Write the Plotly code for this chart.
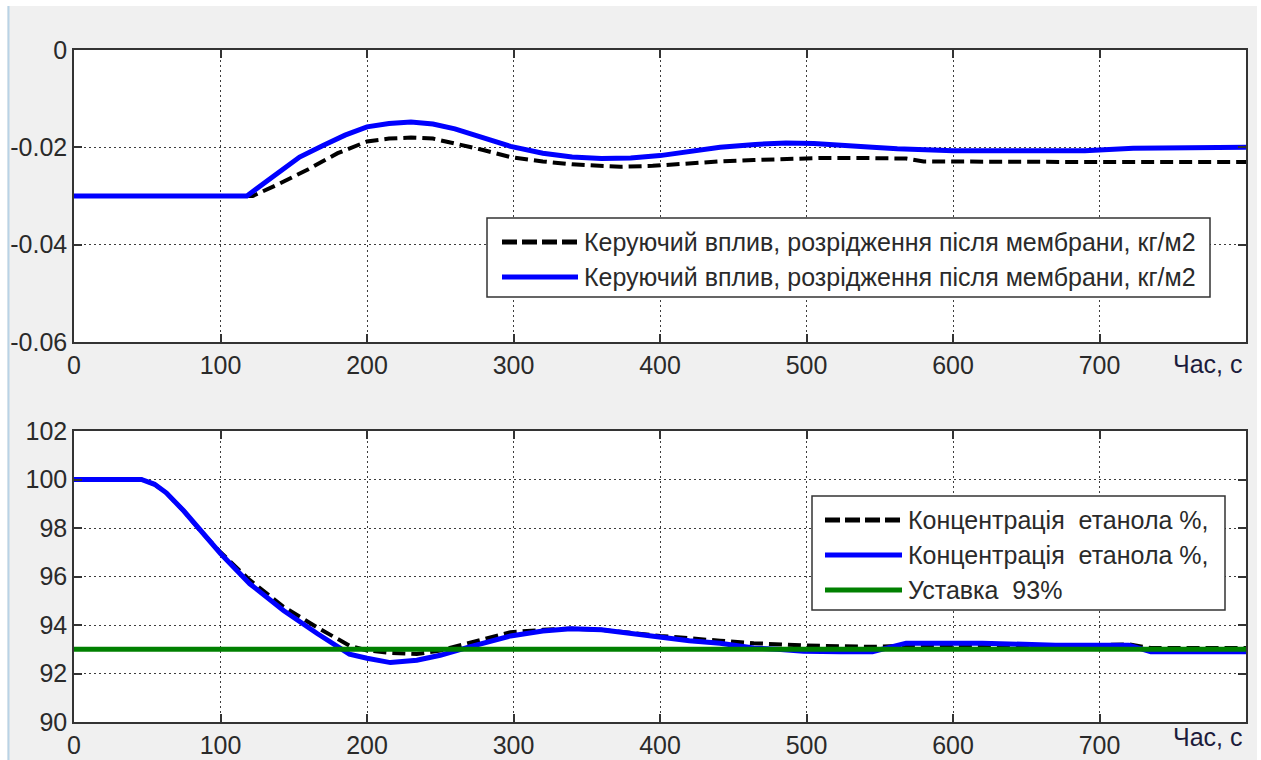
import plotly.graph_objects as go

# ---- upper panel: control action (vacuum after membrane), kg/m2 ----
t_ctrl_a = [0, 122, 140, 160, 180, 200, 215, 230, 245, 260, 280, 298, 320, 340,
            360, 373, 395, 418, 440, 464, 490, 509, 540, 568, 580, 620, 680, 740, 800]
u_ctrl_a = [-0.030, -0.030, -0.0275, -0.0245, -0.0212, -0.0188, -0.0182, -0.0180,
            -0.0182, -0.0192, -0.0206, -0.0220, -0.0229, -0.0235, -0.0239, -0.0240,
            -0.0238, -0.0233, -0.0229, -0.0226, -0.0223, -0.0222, -0.0222, -0.0223,
            -0.0229, -0.0230, -0.0230, -0.0230, -0.0230]

t_ctrl_b = [0, 118, 135, 154, 170, 185, 200, 215, 230, 245, 260, 280, 298, 320, 340,
            360, 380, 400, 420, 441, 465, 486, 505, 525, 545, 562, 600, 650, 690, 723,
            760, 800]
u_ctrl_b = [-0.030, -0.030, -0.0262, -0.0220, -0.0196, -0.0175, -0.0158, -0.0151,
            -0.0148, -0.0152, -0.0162, -0.0180, -0.0198, -0.0212, -0.0220, -0.0223,
            -0.0222, -0.0217, -0.0208, -0.0200, -0.0194, -0.0191, -0.0192, -0.0197,
            -0.0200, -0.0203, -0.0207, -0.0207, -0.0207, -0.0202, -0.0201, -0.0200]

# ---- lower panel: ethanol concentration, % ----
t_conc_a = [0, 46, 55, 63, 75, 86, 100, 120, 143, 166, 188, 200, 216, 234, 250, 270,
            298, 320, 339, 360, 400, 441, 464, 500, 545, 568, 620, 680, 720, 735, 760, 800]
c_conc_a = [100, 100, 99.8, 99.45, 98.7, 97.9, 97.0, 95.85, 94.75, 93.9, 93.15, 92.95,
            92.85, 92.8, 92.95, 93.25, 93.7, 93.8, 93.85, 93.8, 93.55, 93.35, 93.25,
            93.15, 93.1, 93.15, 93.15, 93.15, 93.2, 93.05, 93.05, 93.05]

t_conc_b = [0, 46, 55, 63, 75, 86, 100, 120, 143, 166, 188, 200, 216, 234, 250, 270,
            298, 320, 339, 360, 373, 400, 420, 441, 464, 480, 498, 523, 545, 568, 620,
            670, 700, 720, 735, 760, 800]
c_conc_b = [100, 100, 99.8, 99.45, 98.7, 97.9, 96.95, 95.7, 94.6, 93.65, 92.8, 92.63,
            92.45, 92.55, 92.75, 93.1, 93.55, 93.75, 93.85, 93.8, 93.7, 93.5, 93.35,
            93.25, 93.05, 93.0, 92.92, 92.9, 92.9, 93.25, 93.25, 93.17, 93.17, 93.17,
            92.9, 92.9, 92.9]

t_setpoint = [0, 800]
c_setpoint = [93, 93]

x_ticks = [0, 100, 200, 300, 400, 500, 600, 700]
top_ticks = [-0.06, -0.04, -0.02, 0]
top_tick_text = ["-0.06", "-0.04", "-0.02", "0"]
bottom_ticks = [90, 92, 94, 96, 98, 100, 102]

label_ctrl = "Керуючий вплив, розрідження після мембрани, кг/м2"
label_conc = "Концентрація  етанола %,"
label_set = "Уставка  93%"
x_title = "Час, с"

W, H = 1261, 760
FONT = "Liberation Sans, Arial, sans-serif"
BLACK_DASH = "13px,6px"


def px(x):
    return x / W


def py(y):
    return 1 - y / H


fig = go.Figure()

fig.add_trace(go.Scatter(x=t_ctrl_a, y=u_ctrl_a, mode="lines", xaxis="x", yaxis="y",
                         line=dict(color="black", width=4, dash=BLACK_DASH)))
fig.add_trace(go.Scatter(x=t_ctrl_b, y=u_ctrl_b, mode="lines", xaxis="x", yaxis="y",
                         line=dict(color="#0000ff", width=5)))
fig.add_trace(go.Scatter(x=t_conc_a, y=c_conc_a, mode="lines", xaxis="x2", yaxis="y2",
                         line=dict(color="black", width=4, dash=BLACK_DASH)))
fig.add_trace(go.Scatter(x=t_conc_b, y=c_conc_b, mode="lines", xaxis="x2", yaxis="y2",
                         line=dict(color="#0000ff", width=5)))
fig.add_trace(go.Scatter(x=t_setpoint, y=c_setpoint, mode="lines", xaxis="x2", yaxis="y2",
                         line=dict(color="#008000", width=5)))

axis_common = dict(
    automargin=False,
    showline=True, linecolor="#333333", linewidth=1.5, mirror="ticks",
    ticks="inside", ticklen=8, tickwidth=1.5, tickcolor="#333333",
    showgrid=True, gridcolor="#3c3c3c", gridwidth=1.2, griddash="1.5px,3.5px",
    zeroline=False, tickfont=dict(family=FONT, size=25, color="#2a2a2a"),
)

x_dom = [px(74), px(1246)]
fig.update_layout(
    width=W, height=H,
    margin=dict(l=0, r=0, t=0, b=0, autoexpand=False),
    paper_bgcolor="#f0f0f0", plot_bgcolor="white",
    showlegend=False,
    font=dict(family=FONT),
    xaxis=dict(domain=x_dom, range=[0, 800], tickvals=x_ticks, anchor="y", **axis_common),
    yaxis=dict(domain=[py(342), py(50)], range=[-0.06, 0], tickvals=top_ticks,
               ticktext=top_tick_text, anchor="x", **axis_common),
    xaxis2=dict(domain=x_dom, range=[0, 800], tickvals=x_ticks, anchor="y2", **axis_common),
    yaxis2=dict(domain=[py(722), py(431)], range=[90, 102], tickvals=bottom_ticks,
                anchor="x2", **axis_common),
)

shapes = []
annotations = []

# window edges
shapes.append(dict(type="rect", xref="paper", yref="paper", x0=0, x1=1, y0=py(6), y1=1,
                   fillcolor="white", line=dict(width=0)))
shapes.append(dict(type="rect", xref="paper", yref="paper", x0=0, x1=px(7), y0=0, y1=1,
                   fillcolor="white", line=dict(width=0)))
shapes.append(dict(type="rect", xref="paper", yref="paper", x0=px(1257), x1=1, y0=0, y1=1,
                   fillcolor="white", line=dict(width=0)))
shapes.append(dict(type="line", xref="paper", yref="paper", x0=px(8.5), x1=px(8.5),
                   y0=0, y1=py(6), line=dict(color="#b9d3e6", width=2)))


def legend_box(x0, x1, y0, y1, rows, sample_x0, sample_x1, text_x):
    shapes.append(dict(type="rect", xref="paper", yref="paper",
                       x0=px(x0), x1=px(x1), y0=py(y1), y1=py(y0),
                       fillcolor="white", line=dict(color="#333333", width=1.5)))
    for y, color, width, dash, text in rows:
        shapes.append(dict(type="line", xref="paper", yref="paper",
                           x0=px(sample_x0), x1=px(sample_x1), y0=py(y), y1=py(y),
                           line=dict(color=color, width=width, dash=dash)))
        annotations.append(dict(xref="paper", yref="paper", x=px(text_x), y=py(y),
                                xanchor="left", yanchor="middle", showarrow=False,
                                text=text, font=dict(family=FONT, size=25, color="#2a2a2a")))


legend_box(487, 1210, 218, 297,
           [(242, "black", 5, "15px,5px", label_ctrl),
            (277, "#0000ff", 5, "solid", label_ctrl)],
           502, 578, 582)
legend_box(812, 1225, 496, 610,
           [(520, "black", 5, "15px,5px", label_conc),
            (555, "#0000ff", 5, "solid", label_conc),
            (590, "#008000", 5, "solid", label_set)],
           825, 902, 906)

for yc in (364, 737):
    annotations.append(dict(xref="paper", yref="paper", x=px(1244), y=py(yc),
                            xanchor="right", yanchor="middle", showarrow=False,
                            text=x_title, font=dict(family=FONT, size=25, color="#1c1c3c")))

fig.update_layout(shapes=shapes, annotations=annotations)

fig.write_html("out.html")
